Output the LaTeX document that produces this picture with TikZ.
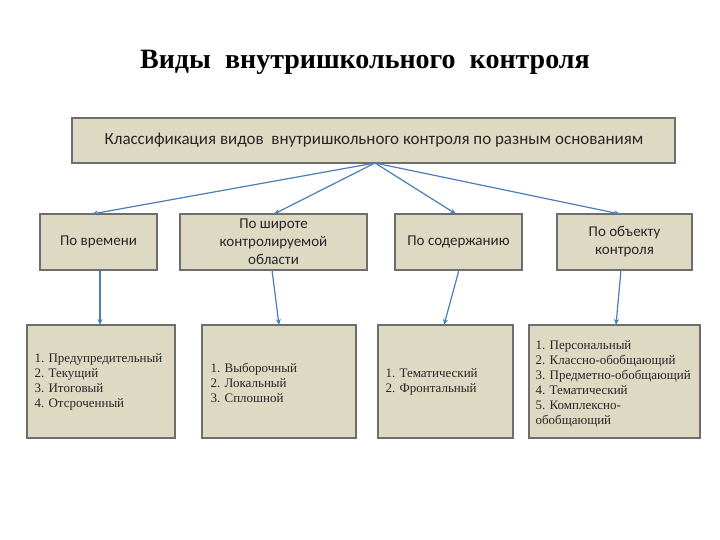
\documentclass[tikz,border=0pt]{standalone}
\usepackage{fontspec}
\setmainfont{Liberation Serif}
\newfontfamily\boxfont{Carlito}
\usetikzlibrary{arrows.meta}
\definecolor{boxfill}{HTML}{DDD9C3}
\definecolor{boxline}{HTML}{6E6E6E}
\definecolor{arr}{HTML}{4A7EBB}
\begin{document}
\begin{tikzpicture}[x=1pt,y=-1pt,
  bx/.style={draw=boxline,line width=1.4pt,fill=boxfill},
  lbl/.style={font=\boxfont\fontsize{15}{18}\selectfont,align=center,text=black!85},
  lst/.style={font=\fontsize{13}{15}\selectfont,align=left,anchor=west,text=black!85},
  ar/.style={draw=arr,line width=1.2pt,-{Stealth[length=6pt,width=5pt]}}]
\useasboundingbox (0,0) rectangle (720,540);
\node[font=\bfseries\fontsize{28}{32}\selectfont] (title) at (365,62) {Виды \ внутришкольного \ контроля};
\draw[bx] (72,118) rectangle (675,163);
\node[lbl,font=\boxfont\fontsize{17}{20}\selectfont] (top) at (374,140.5) {Классификация видов \ внутришкольного контроля по разным основаниям};
\coordinate (tb) at (375,163);
% row 1
\draw[bx] (40,214) rectangle (157,270); \node[lbl] (a1) at (98.5,242) {По времени};
\draw[bx] (180,214) rectangle (367,270); \node[lbl] (b1) at (273.5,242) {По широте\\контролируемой\\области};
\draw[bx] (395,214) rectangle (522,270); \node[lbl] (c1) at (458.5,242) {По содержанию};
\draw[bx] (557,214) rectangle (692,270); \node[lbl] (d1) at (624.5,242) {По объекту\\контроля};
\coordinate (a1t) at (92,214); \coordinate (b1t) at (274,214); \coordinate (c1t) at (456,214); \coordinate (d1t) at (620,214);
\coordinate (a1b) at (100,270); \coordinate (b1b) at (272,270); \coordinate (c1b) at (459,270); \coordinate (d1b) at (621,270);
% row 2
\draw[bx] (27,325) rectangle (175,438);
\node[lst] (a2) at (31,382) {1. Предупредительный\\2. Текущий\\3. Итоговый\\4. Отсроченный};
\draw[bx] (202,325) rectangle (356,438);
\node[lst] (b2) at (207,383) {1. Выборочный\\2. Локальный\\3. Сплошной};
\draw[bx] (378,325) rectangle (513,438);
\node[lst] (c2) at (382,382) {1. Тематический\\2. Фронтальный};
\draw[bx] (529,325) rectangle (700,438);
\node[lst] (d2) at (532,384) {1. Персональный\\2. Классно-обобщающий\\3. Предметно-обобщающий\\4. Тематический\\5. Комплексно-\\обобщающий};
\coordinate (a2t) at (100,325); \coordinate (b2t) at (279,325); \coordinate (c2t) at (444,325); \coordinate (d2t) at (616,325);
\draw[ar] (tb) -- (a1t); \draw[ar] (tb) -- (b1t); \draw[ar] (tb) -- (c1t); \draw[ar] (tb) -- (d1t);
\draw[ar] (a1b) -- (a2t); \draw[ar] (b1b) -- (b2t); \draw[ar] (c1b) -- (c2t); \draw[ar] (d1b) -- (d2t);
\end{tikzpicture}
\end{document}
